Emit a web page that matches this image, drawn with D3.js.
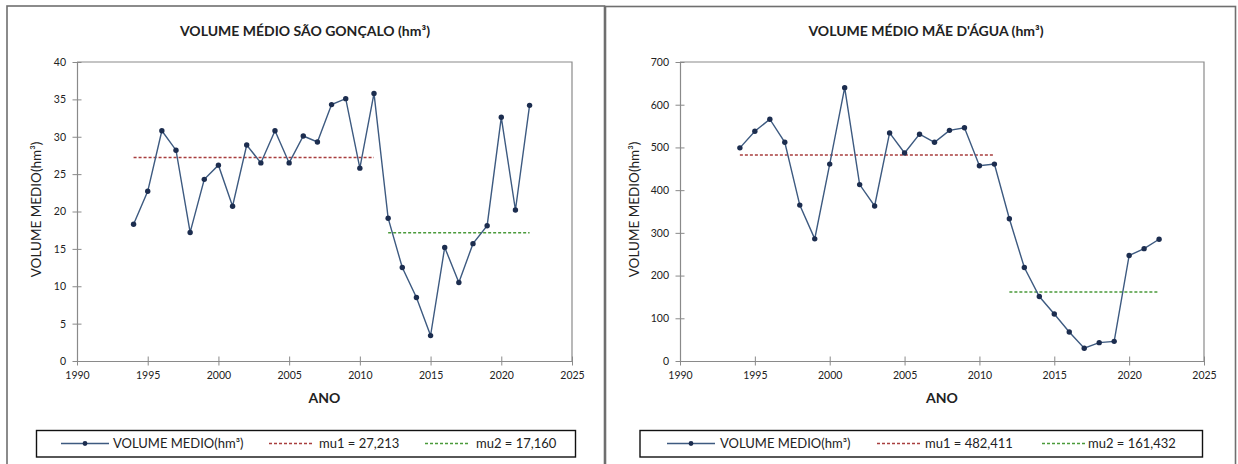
<!DOCTYPE html>
<html>
<head>
<meta charset="utf-8">
<script src="https://cdn.jsdelivr.net/npm/d3@7/dist/d3.min.js"></script>
<style>
  body { margin: 0; background: #fff; }
  svg { display: block; }
  text { font-family: Lato, "Open Sans", sans-serif; fill: #222; }
</style>
</head>
<body>
<svg id="chart" width="1238" height="464"></svg>
<script>
// Annual mean reservoir volume (hm³)
const years = [1994, 1995, 1996, 1997, 1998, 1999, 2000, 2001, 2002, 2003, 2004,
               2005, 2006, 2007, 2008, 2009, 2010, 2011, 2012, 2013, 2014, 2015,
               2016, 2017, 2018, 2019, 2020, 2021, 2022];

const volumeSaoGoncalo = [18.3, 22.7, 30.8, 28.2, 17.2, 24.3, 26.2, 20.7, 28.9, 26.5, 30.8,
                          26.5, 30.1, 29.3, 34.3, 35.1, 25.8, 35.8, 19.1, 12.5, 8.5, 3.4,
                          15.2, 10.5, 15.7, 18.1, 32.6, 20.2, 34.2];

const volumeMaeDagua = [499, 538, 566, 512, 365, 286, 461, 640, 413, 363, 534,
                        487, 531, 512, 540, 546, 457, 461, 333, 219, 151, 110,
                        68, 30, 43, 46, 247, 263, 285];

// Segment means and the year ranges they cover
const meanSaoGoncalo = [27.213, 17.160];
const meanMaeDagua = [482.411, 161.432];
const meanPeriods = [[1994, 2011], [2012, 2022]];

// Axis ticks
const yearTicks = [1990, 1995, 2000, 2005, 2010, 2015, 2020, 2025];
const ticksSaoGoncalo = [0, 5, 10, 15, 20, 25, 30, 35, 40];
const ticksMaeDagua = [0, 100, 200, 300, 400, 500, 600, 700];

const titles = ["VOLUME MÉDIO SÃO GONÇALO (hm³)", "VOLUME MÉDIO MÃE D'ÁGUA (hm³)"];
const yAxisTitle = "VOLUME MEDIO(hm³)";
const xAxisTitle = "ANO";
const seriesName = "VOLUME MEDIO(hm³)";
const meanNames = ["mu1", "mu2"];

const ptBR = d3.formatLocale({ decimal: ",", thousands: ".", grouping: [3], currency: ["R$", ""] });
const fmtMean = ptBR.format(".3f");

const svg = d3.select("#chart");
const lineColor = "#3d5a80";
const markerColor = "#1c2d4f";
const meanColors = ["#a83e3e", "#4a9a3a"];
const frameColor = "#6f6f6f";
const axisColor = "#8a8a8a";

function drawPanel(p) {
  const g = svg.append("g");

  // panel frame
  g.append("rect")
    .attr("x", p.frame[0]).attr("y", p.frame[1])
    .attr("width", p.frame[2]).attr("height", p.frame[3])
    .attr("fill", "none").attr("stroke", frameColor).attr("stroke-width", 1.6);

  const x = d3.scaleLinear().domain([yearTicks[0], yearTicks[yearTicks.length - 1]])
    .range([p.left, p.right]);
  const y = d3.scaleLinear().domain([p.yTicks[0], p.yTicks[p.yTicks.length - 1]])
    .range([p.bottom, p.top]);

  // plot area border (top and right)
  g.append("path")
    .attr("d", `M${p.left},${p.top}H${p.right}V${p.bottom}`)
    .attr("fill", "none").attr("stroke", axisColor).attr("stroke-width", 1.2);

  // y axis with ticks crossing the line
  const yAxis = g.append("g").attr("transform", `translate(${p.left},0)`)
    .call(d3.axisLeft(y).tickValues(p.yTicks).tickSize(0).tickPadding(11).tickFormat(d3.format("d")));
  yAxis.select(".domain").attr("stroke", axisColor).attr("stroke-width", 1.2);
  yAxis.selectAll(".tick line").attr("x1", -4.5).attr("x2", 4.5).attr("stroke", axisColor);
  yAxis.selectAll(".tick text").attr("font-size", 10.5).attr("fill", "#2a2a2a")
    .style("font-family", "Lato, sans-serif");

  // x axis with ticks crossing the line
  const xAxis = g.append("g").attr("transform", `translate(0,${p.bottom})`)
    .call(d3.axisBottom(x).tickValues(yearTicks).tickSize(0).tickPadding(11).tickFormat(d3.format("d")));
  xAxis.select(".domain").attr("stroke", axisColor).attr("stroke-width", 1.2);
  xAxis.selectAll(".tick line").attr("y1", -4.5).attr("y2", 4.5).attr("stroke", axisColor);
  xAxis.selectAll(".tick text").attr("font-size", 10.5).attr("fill", "#2a2a2a")
    .style("font-family", "Lato, sans-serif");

  // mean lines over each period
  p.means.forEach((m, i) => {
    g.append("line")
      .attr("x1", x(meanPeriods[i][0])).attr("x2", x(meanPeriods[i][1]))
      .attr("y1", y(m)).attr("y2", y(m))
      .attr("stroke", meanColors[i]).attr("stroke-width", 1.5)
      .attr("stroke-dasharray", "3,2");
  });

  // series line and markers
  const pts = years.map((yr, i) => [yr, p.values[i]]);
  g.append("path").datum(pts)
    .attr("d", d3.line().x(d => x(d[0])).y(d => y(d[1])))
    .attr("fill", "none").attr("stroke", lineColor).attr("stroke-width", 1.4);
  g.selectAll("circle.pt").data(pts).join("circle")
    .attr("class", "pt")
    .attr("cx", d => x(d[0])).attr("cy", d => y(d[1])).attr("r", 2.7)
    .attr("fill", markerColor);

  // titles
  g.append("text").attr("x", p.titleX).attr("y", 36)
    .attr("text-anchor", "middle").attr("font-size", 14).attr("font-weight", "bold")
    .text(p.title);
  g.append("text").attr("x", (p.left + p.right) / 2).attr("y", 403)
    .attr("text-anchor", "middle").attr("font-size", 14).attr("font-weight", "bold")
    .text(xAxisTitle);
  g.append("text")
    .attr("transform", `translate(${p.yTitleX},${(p.top + p.bottom) / 2 - 2}) rotate(-90)`)
    .attr("text-anchor", "middle").attr("font-size", 13.5).text(yAxisTitle);

  // legend
  const L = p.legend;
  g.append("rect").attr("x", L.x).attr("y", 430.5).attr("width", L.w).attr("height", 26.5)
    .attr("fill", "#fff").attr("stroke", "#111").attr("stroke-width", 1.4);
  const ly = 443.5;
  g.append("line").attr("x1", L.s0[0]).attr("x2", L.s0[1]).attr("y1", ly).attr("y2", ly)
    .attr("stroke", lineColor).attr("stroke-width", 1.3);
  g.append("circle").attr("cx", (L.s0[0] + L.s0[1]) / 2).attr("cy", ly).attr("r", 2.4)
    .attr("fill", markerColor);
  g.append("text").attr("x", L.t0).attr("y", ly + 4.5).attr("font-size", 13).text(seriesName);
  p.means.forEach((m, i) => {
    g.append("line").attr("x1", L.s[i][0]).attr("x2", L.s[i][1]).attr("y1", ly).attr("y2", ly)
      .attr("stroke", meanColors[i]).attr("stroke-width", 1.3).attr("stroke-dasharray", "3,2");
    g.append("text").attr("x", L.t[i]).attr("y", ly + 4.5).attr("font-size", 13)
      .text(`${meanNames[i]} = ${fmtMean(m)}`);
  });
}

drawPanel({
  frame: [7, 6, 597.5, 480],
  left: 77, right: 572, top: 62, bottom: 361,
  yTicks: ticksSaoGoncalo, values: volumeSaoGoncalo, means: meanSaoGoncalo,
  title: titles[0], titleX: 305, yTitleX: 41,
  legend: { x: 36.5, w: 539, s0: [61, 109], t0: 113, s: [[269, 314], [425, 470]], t: [319, 476] }
});

drawPanel({
  frame: [605.5, 6.5, 630, 480],
  left: 680, right: 1204, top: 62, bottom: 361,
  yTicks: ticksMaeDagua, values: volumeMaeDagua, means: meanMaeDagua,
  title: titles[1], titleX: 926, yTitleX: 639,
  legend: { x: 640, w: 562.5, s0: [667, 715], t0: 720, s: [[877, 920], [1042, 1085]], t: [925, 1088] }
});
</script>
</body>
</html>
